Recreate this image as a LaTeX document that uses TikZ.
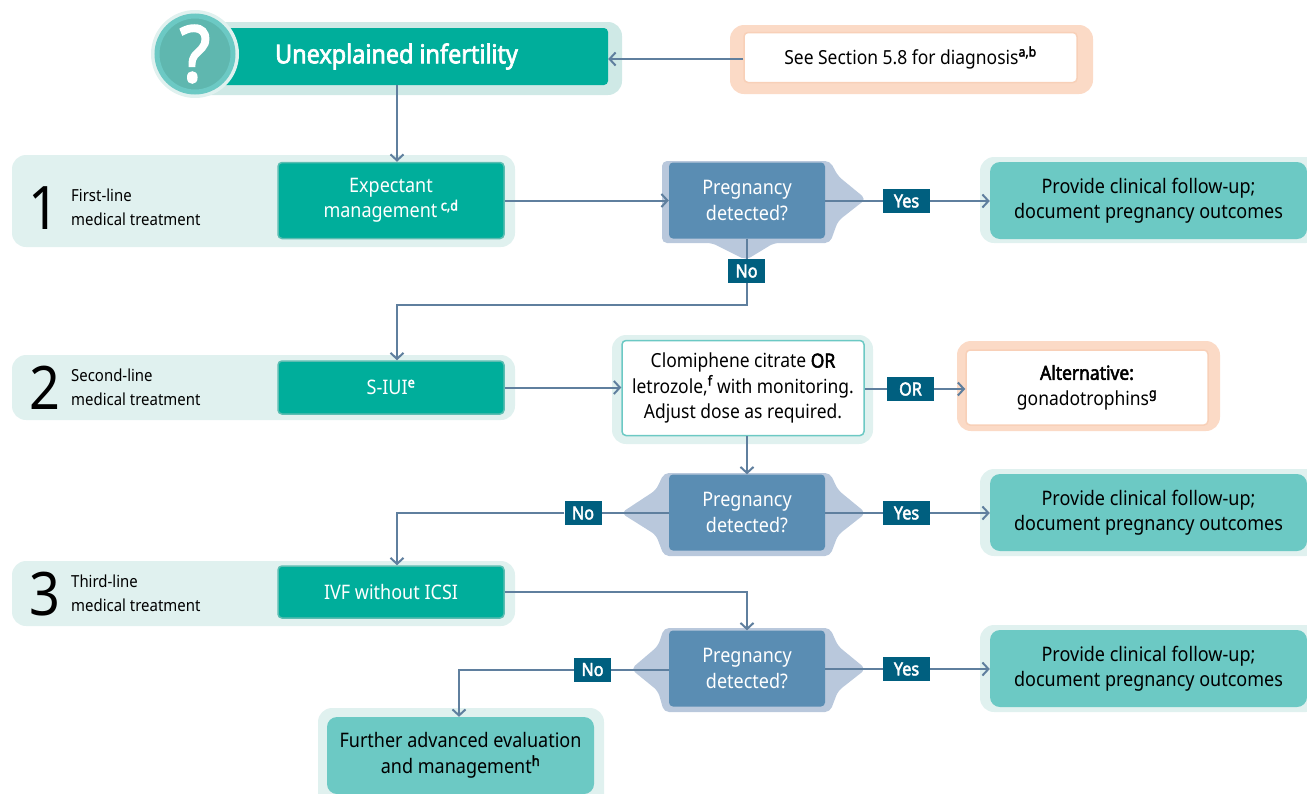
\documentclass[tikz,border=0pt]{standalone}
\usepackage{fontspec}
\setmainfont[FakeStretch=0.9,BoldFont={Noto Sans},BoldFeatures={FakeBold=2.5}]{Noto Sans}
\usetikzlibrary{
  arrows.meta
}
\definecolor{mainteal}{HTML}{00AE9B}
\definecolor{edgeteal}{HTML}{5CBDB2}
\definecolor{softteal}{HTML}{6CC9C4}
\definecolor{haloteal}{HTML}{E0F1EF}
\definecolor{halotop}{HTML}{CFE9E6}
\definecolor{halopeach}{HTML}{FBDAC6}
\definecolor{rimpeach}{HTML}{F8D0B8}
\definecolor{haloblue}{HTML}{B9C8DC}
\definecolor{queryblue}{HTML}{5A8DB3}
\definecolor{tagblue}{HTML}{005F7F}
\definecolor{flowblue}{HTML}{5F7F9E}
\definecolor{markteal}{HTML}{5FB7AF}
\newcommand{\supmark}[1]{\textsuperscript{\bfseries #1}}
\tikzset{
  % For the pale patches behind the boxes.
  halo/.style={
    fill=haloteal,
    rounded corners=14pt},
  peach halo/.style={
    fill=halopeach,
    rounded corners=14pt},
  query halo/.style={
    fill=haloblue,
    rounded corners=5pt},
%
  % For all boxes, placed by their centres.
  box/.style={
    rounded corners=4pt,
    inner sep=0pt,
    align=center,
    font=\fontsize{20pt}{25.5pt}\selectfont},
%
  % For treatment steps.
  treatment/.style={
    box,
    fill=mainteal,
    draw=edgeteal,
    line width=1.5pt,
    minimum width=226pt,
    text=white},
%
  % For yes/no questions.
  query/.style={
    box,
    fill=queryblue,
    minimum width=156pt,
    minimum height=76pt,
    text=white},
%
  % For final boxes.
  outcome/.style={
    box,
    rounded corners=10pt,
    fill=softteal,
    text=black},
%
  % For white boxes with a coloured rim.
  option/.style={
    box,
    fill=white,
    line width=1.5pt,
    font=\fontsize{19.4pt}{25.5pt}\selectfont},
%
  % For the small labels on the lines.
  tag/.style={
    fill=tagblue,
    text=white,
    inner sep=0pt,
    minimum height=24pt,
    font=\fontsize{18pt}{0pt}\selectfont\bfseries},
  yes tag/.style={
    tag,
    minimum width=47pt},
  no tag/.style={
    tag,
    minimum width=37pt},
%
  % For step numbers and their captions.
  number/.style={
    inner sep=0pt,
    font=\fontsize{60pt}{0pt}\selectfont},
  caption/.style={
    inner sep=0pt,
    anchor=west,
    align=left,
    font=\fontsize{16.6pt}{24pt}\selectfont},
%
  % For connectors with and without an arrow.
  line/.style={
    draw=flowblue,
    line width=2pt},
  direction/.style={
    line,
    -{Straight Barb[length=6pt,width=13pt,line width=2pt]}}
}

\begin{document}
\begin{tikzpicture}[x=1pt,y=-1pt]
  \useasboundingbox (0,0) rectangle (1307,793);

  % Patches behind everything.
  \fill[halo, fill=halotop] (170,22) rectangle (622,95);
  \fill[peach halo] (730,25) rectangle (1093,94);
  \fill[halo] (12,155) rectangle (515,247);
  \fill[halo] (12,355) rectangle (515,420);
  \fill[halo] (12,561) rectangle (515,626);
  \fill[halo] (980,157) rectangle (1320,243);
  \fill[halo] (980,469) rectangle (1320,556);
  \fill[halo] (980,625) rectangle (1320,712);
  \fill[halo] (612,335) rectangle (873,444);
  \fill[peach halo] (957,341) rectangle (1220,431);
  \fill[halo] (318,708) rectangle (604,810);

  \fill[query halo] (662,161) -- (830,161) -- (838,176) -- (866,199) -- (838,221)
                    -- (830,243) -- (774,243) -- (746,260) -- (712,243) -- (662,243)
                    -- cycle;
  \fill[query halo] (664,473) -- (830,473) -- (838,490) -- (866,513) -- (838,535)
                    -- (830,556) -- (664,556) -- (656,535) -- (621,513) -- (656,490)
                    -- cycle;
  \fill[query halo] (664,628) -- (830,628) -- (838,646) -- (866,669) -- (838,691)
                    -- (830,712) -- (664,712) -- (658,691) -- (631,669) -- (658,646)
                    -- cycle;

  % Header row.
  \node[box, fill=mainteal, minimum width=393pt, minimum height=57pt, text=white,
        font=\fontsize{26pt}{0pt}\selectfont\bfseries] (start) at (411.5,56.5)
        {\hspace{-30pt}Unexplained infertility};
  \fill[haloteal] (195,54) circle (44);
  \node[circle, fill=markteal, draw=softteal, line width=5pt,
        minimum size=76pt, inner sep=0pt, text=white,
        font=\fontsize{78pt}{0pt}\selectfont\bfseries] (mark) at (195,54) {?};
  \node[option, draw=rimpeach, minimum width=333pt, minimum height=50pt] (diagnosis)
        at (910.5,57.5) {See Section 5.8 for diagnosis\supmark{a,b}};

  % First line.
  \node[number] (one) at (44,208) {1};
  \node[caption] (one text) at (71,207) {First-line\\medical treatment};
  \node[treatment, minimum height=76pt] (expectant) at (391,200.5)
        {Expectant\\management\,\supmark{c,d}};
  \node[query] (detected one) at (747,200.5) {Pregnancy\\detected?};
  \node[yes tag] (yes one) at (906.5,201) {Yes};
  \node[no tag] (no one) at (746.5,271) {No};
  \node[outcome, minimum width=317pt, minimum height=77pt] (followup one) at (1148.5,200.5)
        {Provide clinical follow-up;\\document pregnancy outcomes};

  % Second line.
  \node[number] (two) at (45,388) {2};
  \node[caption] (two text) at (71,387) {Second-line\\medical treatment};
  \node[treatment, minimum height=53pt] (siui) at (391,387.5) {S-IUI\supmark{e}};
  \node[option, draw=softteal, minimum width=242pt, minimum height=95pt] (drugs) at (743,388)
        {Clomiphene citrate \textbf{OR}\\letrozole,\supmark{f} with monitoring.\\Adjust dose as required.};
  \node[yes tag] (or tag) at (910.5,389) {OR};
  \node[option, draw=rimpeach, minimum width=242pt, minimum height=75pt] (alternative)
        at (1087,387.5) {\textbf{Alternative:}\\gonadotrophins\supmark{g}};
  \node[query] (detected two) at (747,512.5) {Pregnancy\\detected?};
  \node[yes tag] (yes two) at (906.5,513) {Yes};
  \node[no tag] (no two) at (583,513) {No};
  \node[outcome, minimum width=317pt, minimum height=77pt] (followup two) at (1148.5,512.5)
        {Provide clinical follow-up;\\document pregnancy outcomes};

  % Third line.
  \node[number] (three) at (45,594) {3};
  \node[caption] (three text) at (71,593) {Third-line\\medical treatment};
  \node[treatment, minimum height=52pt] (ivf) at (391,592) {IVF without ICSI};
  \node[query] (detected three) at (747,668.5) {Pregnancy\\detected?};
  \node[yes tag] (yes three) at (906.5,669) {Yes};
  \node[no tag] (no three) at (592.5,669.5) {No};
  \node[outcome, minimum width=317pt, minimum height=77pt] (followup three) at (1148.5,668.5)
        {Provide clinical follow-up;\\document pregnancy outcomes};
  \node[outcome, minimum width=267pt, minimum height=77pt] (further) at (460.5,755.5)
        {Further advanced evaluation\\and management\supmark{h}};

  % Connectors.
  \draw[direction] (diagnosis.west |- 0,59) -- (start.east |- 0,59);
  \draw[direction] (start.south -| 397,0) -- (expectant.north -| 397,0);
  \draw[direction] (expectant.east) -- (detected one.west |- expectant.east);
  \draw[line] (detected one.east |- yes one) -- (yes one);
  \draw[direction] (yes one) -- (followup one.west |- yes one);
  \draw[line] (detected one.south -| no one) -- (no one);
  \draw[direction] (no one) -- (746.5,305) -| (siui.north -| 397,0);

  \draw[direction] (siui.east) -- (drugs.west |- siui.east);
  \draw[line] (drugs.east |- or tag) -- (or tag);
  \draw[direction] (or tag) -- (alternative.west |- or tag);
  \draw[direction] (drugs.south -| detected two) -- (detected two.north);
  \draw[line] (detected two.east |- yes two) -- (yes two);
  \draw[direction] (yes two) -- (followup two.west |- yes two);
  \draw[line] (detected two.west |- no two) -- (no two);
  \draw[direction] (no two) -| (ivf.north -| 397,0);

  \draw[direction] (ivf.east) -| (detected three.north);
  \draw[line] (detected three.east |- yes three) -- (yes three);
  \draw[direction] (yes three) -- (followup three.west |- yes three);
  \draw[line] (detected three.west |- no three) -- (no three);
  \draw[direction] (no three) -| (further.north -| 459,0);
\end{tikzpicture}
\end{document}
